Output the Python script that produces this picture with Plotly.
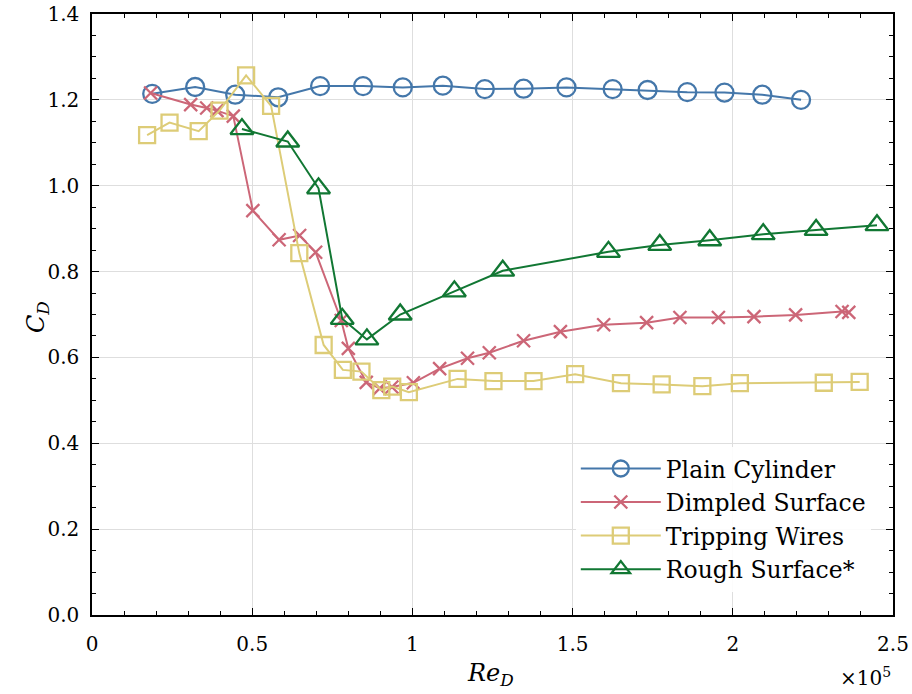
import plotly.graph_objects as go

# Data (Re_D in units of 1e5)
plain_x = [0.188, 0.322, 0.447, 0.581, 0.712, 0.846, 0.970, 1.095, 1.226, 1.347, 1.481,
           1.625, 1.734, 1.858, 1.974, 2.092, 2.213]
plain_y = [1.214, 1.230, 1.212, 1.206, 1.232, 1.232, 1.229, 1.233, 1.225, 1.226, 1.229,
           1.225, 1.223, 1.218, 1.217, 1.212, 1.200]

dimpled_x = [0.183, 0.308, 0.358, 0.390, 0.441, 0.502, 0.584, 0.648, 0.698, 0.778, 0.800,
             0.856, 0.898, 0.936, 1.003, 1.085, 1.172, 1.240, 1.347, 1.462, 1.597, 1.731,
             1.835, 1.955, 2.066, 2.196, 2.341, 2.362]
dimpled_y = [1.216, 1.189, 1.181, 1.175, 1.162, 0.942, 0.874, 0.884, 0.845, 0.686, 0.621,
             0.542, 0.528, 0.531, 0.541, 0.574, 0.598, 0.611, 0.639, 0.660, 0.676, 0.681,
             0.693, 0.693, 0.695, 0.699, 0.707, 0.705]

wires_x = [0.172, 0.242, 0.333, 0.398, 0.481, 0.559, 0.647, 0.723, 0.783, 0.841, 0.903,
           0.937, 0.989, 1.141, 1.253, 1.378, 1.508, 1.651, 1.778, 1.905, 2.022, 2.284, 2.396]
wires_y = [1.118, 1.147, 1.127, 1.175, 1.257, 1.186, 0.843, 0.629, 0.571, 0.567, 0.524,
           0.532, 0.519, 0.550, 0.545, 0.545, 0.561, 0.540, 0.537, 0.533, 0.540, 0.541, 0.543]

rough_x = [0.468, 0.611, 0.707, 0.781, 0.858, 0.962, 1.131, 1.282, 1.612, 1.772, 1.928,
           2.095, 2.260, 2.450]
rough_y = [1.132, 1.103, 0.994, 0.690, 0.642, 0.700, 0.754, 0.802, 0.846, 0.862, 0.873,
           0.887, 0.897, 0.908]

x_tickvals = [0, 0.5, 1, 1.5, 2, 2.5]
x_ticktext = ["0", "0.5", "1", "1.5", "2", "2.5"]

FONT = "DejaVu Serif"
BLUE, RED, SAND, GREEN = "#4477AA", "#CC6677", "#DDCC77", "#117733"

fig = go.Figure()
series = [
    ("Plain Cylinder", plain_x, plain_y, BLUE, "circle-open", 18),
    ("Dimpled Surface", dimpled_x, dimpled_y, RED, "x-thin-open", 13),
    ("Tripping Wires", wires_x, wires_y, SAND, "square-open", 16),
    ("Rough Surface*", rough_x, rough_y, GREEN, "triangle-up-open", 20),
]
for i, (name, xs, ys, col, sym, sz) in enumerate(series):
    fig.add_trace(go.Scatter(
        x=xs, y=ys, name=name, mode="lines+markers", legendgroup=f"g{i}",
        line=dict(color=col, width=2),
        marker=dict(symbol=sym, size=sz, color=col, line=dict(color=col, width=2.3)),
    ))

axis_common = dict(
    showline=True, linecolor="black", linewidth=1.5, mirror="ticks",
    ticks="inside", ticklen=7, tickwidth=1.3, tickcolor="black",
    showgrid=True, gridcolor="#dedede", gridwidth=1, zeroline=False,
    tickfont=dict(family=FONT, size=20, color="black"),
    automargin=False,
)

fig.update_xaxes(
    range=[0, 2.5], tickvals=x_tickvals, ticktext=x_ticktext,
    minor=dict(ticks="inside", ticklen=4, tickwidth=1, tickcolor="black", dtick=0.1, showgrid=False),
    ticklabelstandoff=10,
    **axis_common,
)
fig.update_yaxes(
    range=[0, 1.4], dtick=0.2, tickformat=".1f",
    minor=dict(ticks="inside", ticklen=4, tickwidth=1, tickcolor="black", dtick=0.05, showgrid=False),
    ticklabelstandoff=7,
    **axis_common,
)

fig.add_annotation(
    text="<i>Re</i><sub><i>D</i></sub>", xref="paper", yref="paper", x=0.497, y=-0.128,
    xanchor="center", yanchor="bottom", showarrow=False,
    font=dict(family=FONT, size=24, color="black"),
)
fig.add_annotation(
    text="<i>C</i><sub><i>D</i></sub>", xref="paper", yref="paper", x=-0.068, y=0.495,
    xanchor="center", yanchor="middle", showarrow=False, textangle=-90,
    font=dict(family=FONT, size=24, color="black"),
)
fig.add_annotation(
    text="×10<sup>5</sup>", xref="paper", yref="paper", x=0.966, y=-0.103,
    xanchor="center", yanchor="middle", showarrow=False,
    font=dict(family=FONT, size=20, color="black"),
)

fig.update_layout(
    width=912, height=694,
    margin=dict(l=92, r=19, t=14, b=79),
    paper_bgcolor="white", plot_bgcolor="white",
    showlegend=True,
    legend=dict(
        x=0.604, y=0.28, xanchor="left", yanchor="top",
        bgcolor="rgba(255,255,255,0.9)", borderwidth=0,
        font=dict(family=FONT, size=23.5, color="black"),
        itemwidth=80, tracegroupgap=0,
    ),
)

fig.write_html("out.html")
